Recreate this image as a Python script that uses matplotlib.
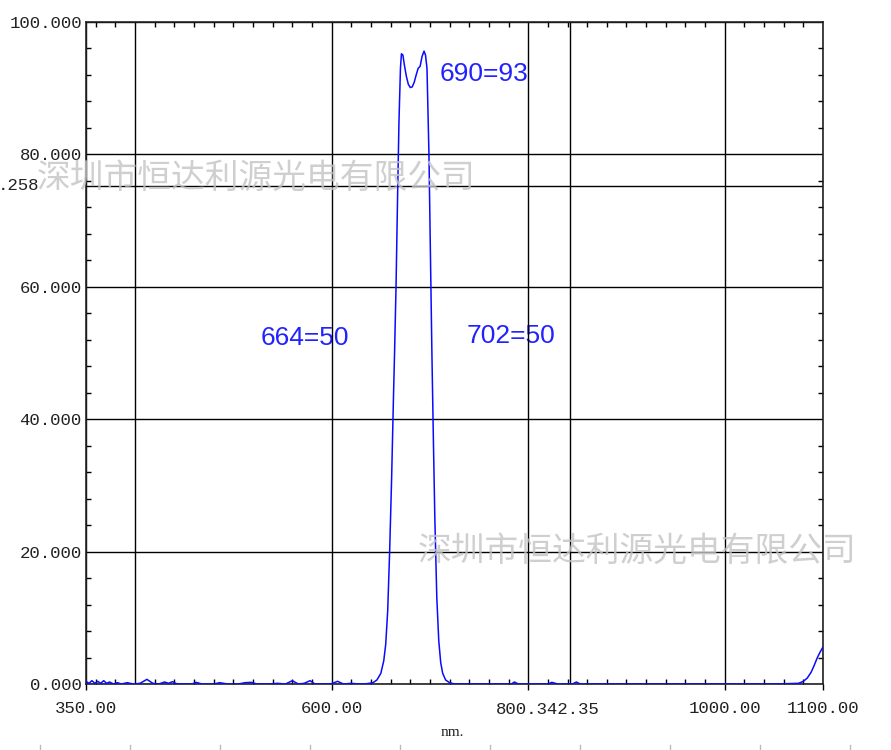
import numpy as np
import matplotlib
matplotlib.use('Agg')
import matplotlib.pyplot as plt
from matplotlib.ticker import MultipleLocator, FixedLocator, FixedFormatter
from matplotlib.transforms import blended_transform_factory, offset_copy
from matplotlib.lines import Line2D

# =========================
# DATA
# =========================
wavelength = [350, 353, 356, 359, 362, 365, 368, 371, 374, 378, 382, 386, 392, 398,
              405, 412, 418, 424, 430, 434, 438, 442, 450, 458, 462, 468, 480, 486,
              494, 505, 512, 518, 524, 535, 545, 553, 560, 566, 572, 578, 583, 595,
              600, 606, 612, 620, 628, 636, 642, 646, 650, 653, 655, 657, 659, 661,
              663, 664, 665.5, 667, 668.5, 670, 671, 672.5, 674, 676, 678, 680, 682,
              684, 686, 688, 690, 692, 694, 695.5, 697, 699, 700.5, 702, 703.5, 705,
              707, 709, 711, 713, 716, 720, 725, 760, 783, 786, 790, 820, 824, 830,
              845, 849, 853, 900, 1000, 1050, 1075, 1080, 1084, 1088, 1091, 1094,
              1097, 1100]
transmit = [0.4, 0.1, 0.5, 0.1, 0.4, 0.1, 0.5, 0.1, 0.3, 0.0, 0.2, 0.0, 0.2, 0.0,
            0.1, 0.7, 0.1, 0.0, 0.3, 0.1, 0.35, 0.05, 0.0, 0.0, 0.25, 0.0, 0.0, 0.2,
            0.0, 0.0, 0.2, 0.25, 0.0, 0.0, 0.1, 0.0, 0.5, 0.0, 0.1, 0.5, 0.0, 0.0,
            0.05, 0.4, 0.0, 0.1, 0.0, 0.05, 0.2, 0.6, 1.6, 3.5, 6.0, 11.0, 20.0, 31.0,
            44.0, 50.0, 60.0, 73.0, 85.0, 93.0, 95.2, 95.0, 93.5, 91.8, 90.6, 90.1, 90.2,
            90.9, 92.0, 93.0, 93.3, 94.8, 95.6, 95.0, 93.0, 80.0, 65.0, 50.0, 37.0, 25.0,
            13.0, 6.5, 3.2, 1.6, 0.6, 0.2, 0.0, 0.0, 0.0, 0.3, 0.0, 0.0, 0.25, 0.0,
            0.0, 0.3, 0.0, 0.0, 0.0, 0.0, 0.1, 0.4, 0.9, 1.8, 2.8, 3.9,
            4.8, 5.6]

x_ticks = [350, 400, 600, 800, 842.35, 1000, 1100]
x_labels = ['350.00', '', '600.00', '', '', '1000.00', '1100.00']
y_ticks = [0, 20, 40, 60, 75.258, 80, 100]
y_labels = ['0.000', '20.000', '40.000', '60.000', '', '80.000', '100.000']

notes = [(710, 92.1, '690=93'), (528, 52.3, '664=50'), (737.5, 52.6, '702=50')]
watermark = '深圳市恒达利源光电有限公司'

# =========================
# FIGURE
# =========================
fig = plt.figure(figsize=(8.91, 7.5), dpi=100)
ax = fig.add_axes([86/891, 66/750, 737/891, 662/750])

ax.plot(wavelength, transmit, color='#0a0aff', lw=1.1, zorder=3)

ax.set_xlim(350, 1100)
ax.set_ylim(0, 100)

tick_font = dict(family='Liberation Mono', size=12.5)
ax.xaxis.set_major_locator(FixedLocator(x_ticks))
ax.xaxis.set_major_formatter(FixedFormatter(x_labels))
ax.yaxis.set_major_locator(FixedLocator(y_ticks))
ax.yaxis.set_major_formatter(FixedFormatter(y_labels))
ax.xaxis.set_minor_locator(MultipleLocator(20))
ax.yaxis.set_minor_locator(MultipleLocator(4))

ax.tick_params(axis='x', which='major', direction='out', length=4.5, width=1.0,
               pad=8, labelcolor='#222222')
ax.tick_params(axis='y', which='major', length=0, pad=3, labelcolor='#222222')
ax.tick_params(which='minor', direction='in', length=3.5, width=1.0,
               top=True, right=True, bottom=True, left=True)
for lab in ax.get_xticklabels() + ax.get_yticklabels():
    lab.set_fontfamily('Liberation Mono')
    lab.set_fontsize(12.5)

# no outward tick on the unlabeled grid lines
for i in (1, 4):
    ax.xaxis.get_major_ticks()[i].tick1line.set_visible(False)

ax.grid(True, which='major', color='black', lw=1.0)
for s in ax.spines.values():
    s.set_linewidth(1.2)
    s.set_color('#222222')

# clipped / overlapping labels as they appear
ax.text(39/891, 75.258, '.258', transform=blended_transform_factory(fig.transFigure, ax.transData),
        ha='right', va='center', color='#222222', **tick_font)
ax.text(800, -0.0378, '800.342.35',
        transform=offset_copy(ax.get_xaxis_transform(), fig=fig, x=-32, y=0, units='dots'),
        ha='left', va='center', color='#222222', clip_on=False, **tick_font)

ax.set_xlabel('nm.', family='Liberation Serif', size=11, color='#222222', va='center')
ax.xaxis.set_label_coords(0.4966, -0.074)

for x, y, t in notes:
    ax.text(x, y, t, color='#2222ff', family='Liberation Sans', size=19,
            ha='left', va='center', zorder=1)

# watermark
wm_font = dict(family=['Noto Sans CJK SC', 'DejaVu Sans'], size=24.3, color='#c4c4c4',
               alpha=0.8, ha='left', va='center')
fig.text(37/891, 1 - 178/750, watermark, **wm_font)
fig.text(418/891, 1 - 551/750, watermark, **wm_font)

# ruler marks at the bottom edge
for px in range(40, 891, 90):
    fig.add_artist(Line2D([px/891, px/891], [0, 5/750], color='#bbbbbb', lw=1.0))

fig.savefig('out.png', dpi=100, facecolor='white')
